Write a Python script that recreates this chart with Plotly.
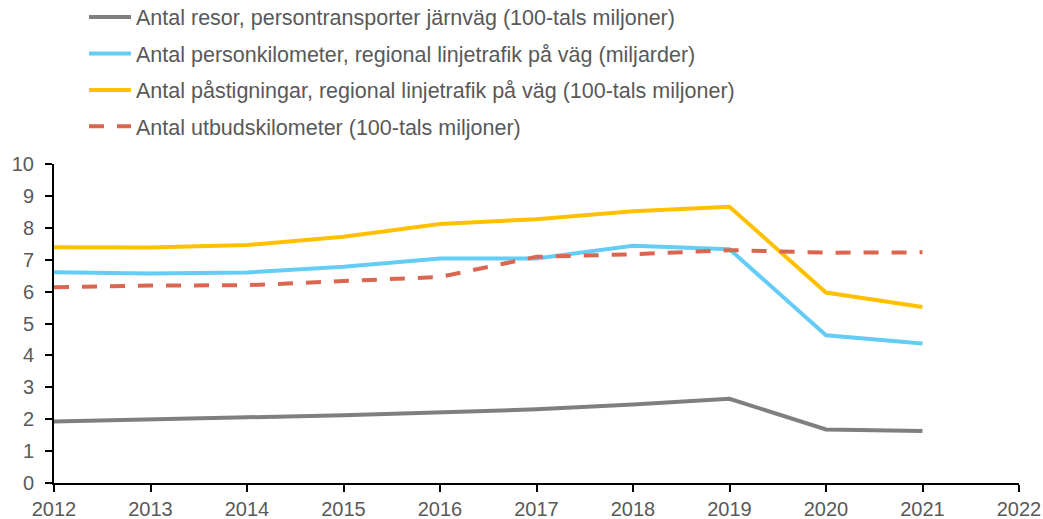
import plotly.graph_objects as go

years = [2012, 2013, 2014, 2015, 2016, 2017, 2018, 2019, 2020, 2021]
resor_jarnvag = [1.93, 2.01, 2.06, 2.12, 2.20, 2.31, 2.46, 2.64, 1.68, 1.63]
personkm_vag = [6.61, 6.57, 6.60, 6.78, 7.04, 7.04, 7.44, 7.33, 4.63, 4.37]
pastigningar_vag = [7.39, 7.38, 7.46, 7.72, 8.12, 8.27, 8.52, 8.66, 5.97, 5.52]
utbudskm = [6.14, 6.19, 6.20, 6.32, 6.46, 7.09, 7.17, 7.30, 7.22, 7.23]

names = [
    "Antal resor, persontransporter järnväg (100-tals miljoner)",
    "Antal personkilometer, regional linjetrafik på väg (miljarder)",
    "Antal påstigningar, regional linjetrafik på väg (100-tals miljoner)",
    "Antal utbudskilometer (100-tals miljoner)",
]
series = [resor_jarnvag, personkm_vag, pastigningar_vag, utbudskm]
colors = ["#7F7F7F", "#63CDF6", "#FFC000", "#DB6650"]
dashes = ["solid", "solid", "solid", "15px,13px"]
x_ticks = list(range(2012, 2023))
y_ticks = list(range(0, 11))

L, R, T, B = 54, 24, 164, 36
W, H = 1043, 519
pw, ph = W - L - R, H - T - B

fig = go.Figure()
for i, (nm, ys, c, d) in enumerate(zip(names, series, colors, dashes)):
    fig.add_trace(go.Scatter(
        x=years, y=ys, name=nm, mode="lines",
        line=dict(color=c, width=4, dash=d),
        legendgroup=f"g{i}",
    ))

font_family = "Liberation Sans, Arial, sans-serif"
fig.update_layout(
    width=W, height=H,
    margin=dict(l=L, r=R, t=T, b=B, autoexpand=False),
    plot_bgcolor="white", paper_bgcolor="white",
    font=dict(family=font_family, size=20, color="#595959"),
    showlegend=True,
    legend=dict(
        x=(84 - L) / pw, y=1 + (T + 3.5) / ph, xanchor="left", yanchor="top",
        font=dict(size=21.5, color="#595959"),
        bgcolor="rgba(0,0,0,0)",
        tracegroupgap=5.5,
        traceorder="grouped",
        itemwidth=42,
    ),
    xaxis=dict(
        range=[2012, 2022], tickvals=x_ticks, ticktext=[str(v) for v in x_ticks],
        showgrid=False, zeroline=False, automargin=False,
        showline=True, linecolor="black", linewidth=2,
        ticks="outside", ticklen=7, tickwidth=2, tickcolor="black",
        tickfont=dict(size=20, color="#595959"),
    ),
    yaxis=dict(
        range=[0, 10], tickvals=y_ticks,
        showgrid=False, zeroline=False, automargin=False,
        showline=True, linecolor="black", linewidth=2,
        ticks="outside", ticklen=7, tickwidth=2, tickcolor="black",
        tickfont=dict(size=20, color="#595959"),
        ticklabelstandoff=7,
    ),
)
fig.write_html(
    "out.html",
    config={"displayModeBar": False},
    post_script="document.body.style.margin='0';document.body.style.overflow='hidden';",
)
